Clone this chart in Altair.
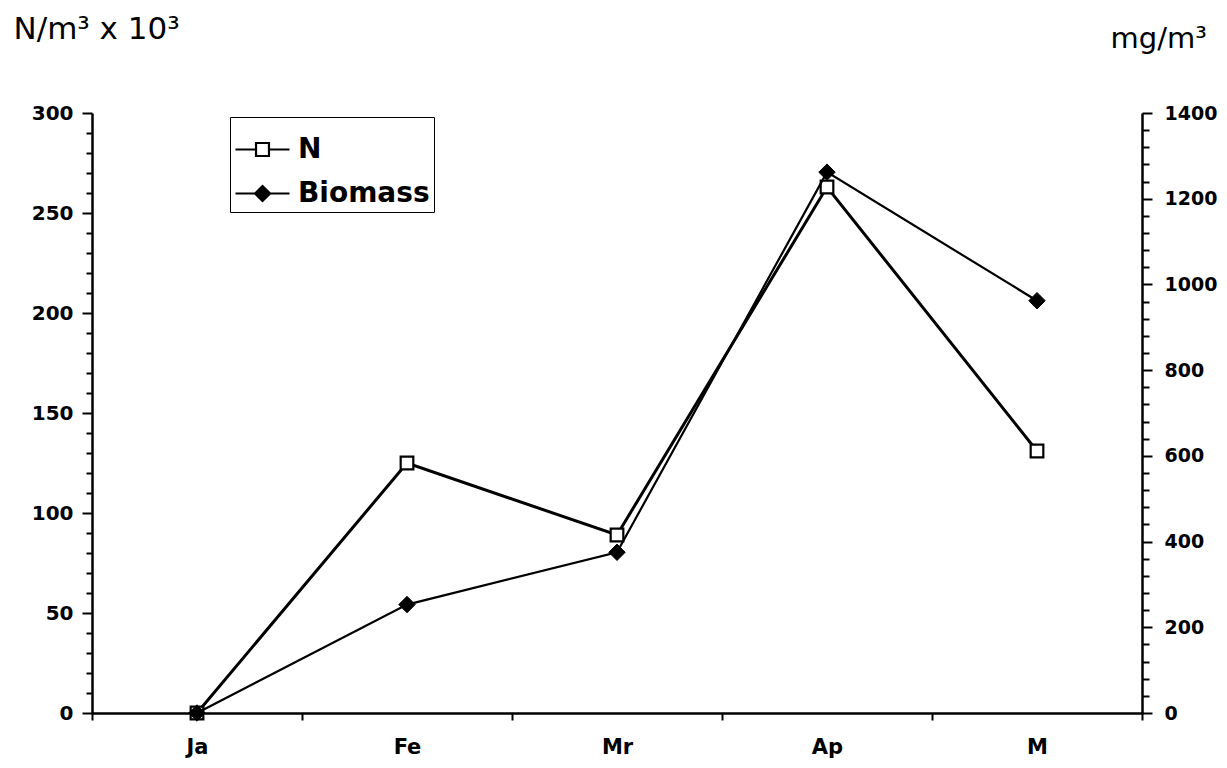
import altair as alt
import pandas as pd

months = ["Ja", "Fe", "Mr", "Ap", "M"]
n_values = [0, 125, 89, 263, 131]
biomass_values = [0, 253, 375, 1262, 962]
series_names = ["N", "Biomass"]
left_ticks = list(range(0, 301, 10))
right_ticks = list(range(0, 1401, 40))

df = pd.DataFrame({"month": months, "N": n_values, "Biomass": biomass_values})
legend_df = pd.DataFrame({"month": [months[0]] * 2, "series": series_names})

FONT = "DejaVu Sans"
path_n = "M-1,0H-0.24M0.24,0H1M-0.24,-0.24H0.24V0.24H-0.24Z"
path_b = "M-1,0H1M0,-0.28L0.28,0L0,0.28L-0.28,0Z"

x_enc = alt.X(
    "month:N",
    sort=months,
    scale=alt.Scale(type="band", domain=months, paddingInner=0, paddingOuter=0),
    axis=alt.Axis(
        title=None, labelAngle=0, tickBand="extent", tickSize=7, tickWidth=2,
        tickColor="black", domainColor="black", domainWidth=2.5,
        labelFont=FONT, labelFontSize=21, labelFontWeight="bold",
        labelColor="black", labelPadding=16, grid=False,
    ),
)

y_left = alt.Y(
    "N:Q",
    scale=alt.Scale(domain=[0, 300], nice=False, zero=True),
    axis=alt.Axis(
        orient="left", values=left_ticks, grid=False, labelOverlap=False,
        labelExpr="datum.value % 50 === 0 ? datum.label : ''",
        tickSize={"condition": {"test": "datum.value % 50 === 0", "value": 10}, "value": 6},
        tickWidth=2, tickColor="black", domainColor="black", domainWidth=2.5,
        labelFont=FONT, labelFontSize=20, labelFontWeight="bold",
        labelColor="black", labelPadding=9,
        title="N/m³ x 10³", titleAngle=0, titleAlign="left",
        titleBaseline="alphabetic", titleX=-79, titleY=-75,
        titleFont=FONT, titleFontSize=31, titleFontWeight="normal",
        titleColor="black",
    ),
)

y_right = alt.Y(
    "Biomass:Q",
    scale=alt.Scale(domain=[0, 1400], nice=False, zero=True),
    axis=alt.Axis(
        orient="right", values=right_ticks, grid=False, labelOverlap=False,
        labelExpr="datum.value % 200 === 0 ? datum.label : ''",
        tickSize={"condition": {"test": "datum.value % 200 === 0", "value": 10}, "value": 7},
        tickWidth=2, tickColor="black", domainColor="black", domainWidth=2.5,
        labelFont=FONT, labelFontSize=19, labelFontWeight="bold",
        labelColor="black", labelPadding=12, format="d",
        title="mg/m³", titleAngle=0, titleAlign="left",
        titleBaseline="alphabetic", titleX=-32, titleY=-66,
        titleFont=FONT, titleFontSize=29, titleFontWeight="normal",
        titleColor="black",
    ),
)

n_layer = alt.Chart(df).mark_line(
    color="black", strokeWidth=3,
    point=alt.OverlayMarkDef(shape="square", filled=True, fill="white",
                             stroke="black", strokeWidth=2.2, size=160),
).encode(x=x_enc, y=y_left)

b_layer = alt.Chart(df).mark_line(
    color="black", strokeWidth=2.2,
    point=alt.OverlayMarkDef(shape="diamond", filled=True, fill="black",
                             stroke="black", strokeWidth=1, size=270),
).encode(x=x_enc, y=y_right)

legend_props = dict(
    title=None, orient="none", legendX=138, legendY=4,
    strokeColor="black", fillColor="white", padding=4,
    symbolSize=2916, symbolStrokeColor="black", symbolStrokeWidth=2.2,
    symbolOpacity=1, labelFont=FONT, labelFontSize=28, labelFontWeight="bold",
    labelColor="black", labelOffset=7, rowPadding=1,
)

legend_layer = alt.Chart(legend_df).mark_point(
    opacity=0, strokeWidth=2.2
).encode(
    x=x_enc,
    shape=alt.Shape("series:N", sort=series_names,
                    scale=alt.Scale(domain=series_names, range=[path_n, path_b]),
                    legend=alt.Legend(**legend_props)),
    fill=alt.Fill("series:N", sort=series_names,
                  scale=alt.Scale(domain=series_names, range=["white", "black"]),
                  legend=alt.Legend(**legend_props)),
    stroke=alt.Stroke("series:N", sort=series_names,
                      scale=alt.Scale(domain=series_names, range=["black", "black"]),
                      legend=alt.Legend(**legend_props)),
)

chart = alt.layer(n_layer, b_layer, legend_layer).resolve_scale(
    y="independent"
).properties(
    width=1050, height=600,
    padding={"left": 84, "top": 105, "right": 77, "bottom": 47},
    autosize="none",
    background="white",
).configure(font=FONT).configure_view(stroke="transparent", strokeWidth=0)

chart.save("out.html", embed_options={"renderer": "svg", "actions": False})
